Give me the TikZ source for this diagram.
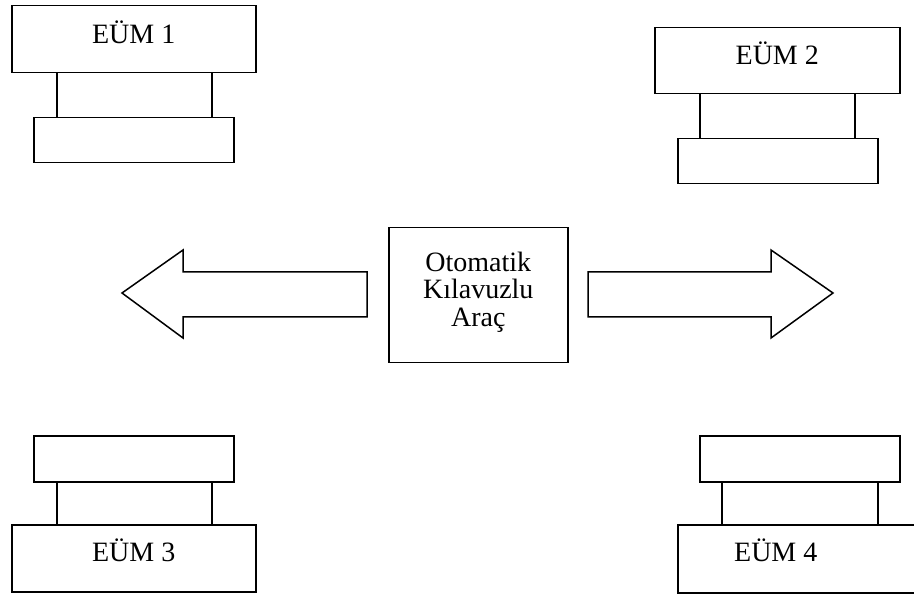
\documentclass[tikz,border=0pt]{standalone}
\usepackage{fontspec}
\setmainfont{Liberation Serif}
\usetikzlibrary{calc}

\tikzset{
  kutu/.style={draw, line width=1.5pt, inner sep=0pt, anchor=north west},
  yazi/.style={font=\fontsize{28}{27.5}\selectfont, align=center},
  ok/.style={draw, line width=1.5pt, line join=miter},
}

\begin{document}
\begin{tikzpicture}[x=1pt, y=-1pt]
      \useasboundingbox (0,0) rectangle (914,596);%
      \clip (0,0) rectangle (914,596);%

      % EUM 1
      \node[kutu, minimum width=244pt, minimum height=67pt] (e1ust) at (11,5) {};%
      \node[kutu, minimum width=155pt, minimum height=45pt] (e1orta) at (56,72) {};%
      \node[kutu, minimum width=200pt, minimum height=45pt] (e1alt) at (33,117) {};%
      \node[yazi] (e1yazi) at ($(e1ust.center)+(0,-7)$) {EÜM 1};%

      % EUM 2
      \node[kutu, minimum width=245pt, minimum height=66pt] (e2ust) at (654,27) {};%
      \node[kutu, minimum width=155pt, minimum height=45pt] (e2orta) at (699,93) {};%
      \node[kutu, minimum width=200pt, minimum height=45pt] (e2alt) at (677,138) {};%
      \node[yazi] (e2yazi) at ($(e2ust.center)+(0,-7)$) {EÜM 2};%

      % EUM 3
      \node[kutu, minimum width=200pt, minimum height=46pt] (e3ust) at (33,435) {};%
      \node[kutu, minimum width=155pt, minimum height=43pt] (e3orta) at (56,481) {};%
      \node[kutu, minimum width=244pt, minimum height=67pt] (e3alt) at (11,524) {};%
      \node[yazi] (e3yazi) at ($(e3alt.center)+(0,-8)$) {EÜM 3};%

      % EUM 4
      \node[kutu, minimum width=200pt, minimum height=46pt] (e4ust) at (699,435) {};%
      \node[kutu, minimum width=156pt, minimum height=43pt] (e4orta) at (721,481) {};%
      \node[kutu, minimum width=244pt, minimum height=68pt] (e4alt) at (677,524) {};%
      \node[yazi] (e4yazi) at ($(e4alt.center)+(-24,-8)$) {EÜM 4};%

      % arac
      \node[kutu, minimum width=179pt, minimum height=135pt] (arac) at (388,227) {};%
      \node[yazi] (aracyazi) at ($(arac.center)+(0,-3)$) {Otomatik\\Kılavuzlu\\Araç};%

      % oklar
      \draw[ok] (122,293) -- (183,250) -- (183,272) -- (367,272)
            -- (367,317) -- (183,317) -- (183,338) -- cycle;%
      \draw[ok] (833,293) -- (771,250) -- (771,272) -- (588,272)
            -- (588,317) -- (771,317) -- (771,338) -- cycle;%
    \end{tikzpicture}
\end{document}
